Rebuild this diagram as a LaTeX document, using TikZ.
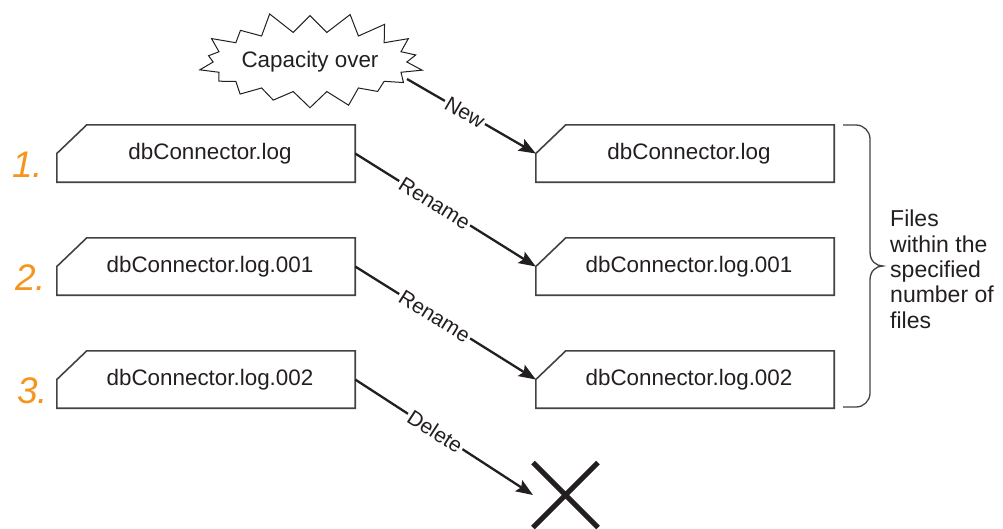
\documentclass[tikz,border=0pt]{standalone}
\usepackage{fontspec}
\setmainfont{Liberation Sans}
\usetikzlibrary{shapes.symbols,shapes.misc,arrows.meta}
\definecolor{numorange}{HTML}{F7941D}
\definecolor{ink}{HTML}{231F20}
\begin{document}
\begin{tikzpicture}[x=1pt,y=-1pt,
  box/.style={minimum width=298pt, minimum height=57pt, inner sep=0pt,
    font=\fontsize{22.4}{26}\selectfont, text=ink,
    execute at begin node={\hspace*{8pt}}},
  outline/.style={line width=1.6pt, draw=ink!85},
  conn/.style={line width=2.3pt, draw=ink, -{Stealth[length=17pt,width=13pt,inset=3pt]}},
  lbl/.style={sloped, fill=white, inner sep=2pt, font=\fontsize{21}{24}\selectfont, text=ink},
  num/.style={font=\fontsize{37}{40}\selectfont\itshape, text=numorange, anchor=base west, inner sep=0pt}]
\useasboundingbox (0,0) rectangle (1003,528);

% burst
\node[starburst, draw=ink, line width=1pt, starburst points=18, starburst point height=22pt,
  minimum width=224pt, minimum height=104pt, inner sep=0pt, random starburst=11,
  font=\fontsize{22.4}{26}\selectfont, text=ink] (burst) at (310,62) {Capacity over};
\coordinate (bstart) at (407,79);

% boxes
\node[box] (l1) at (206,153.5) {dbConnector.log};
\node[box] (l2) at (206,266.5) {dbConnector.log.001};
\node[box] (l3) at (206,379.5) {dbConnector.log.002};
\node[box] (r1) at (685,153.5) {dbConnector.log};
\node[box] (r2) at (685,266.5) {dbConnector.log.001};
\node[box] (r3) at (685,379.5) {dbConnector.log.002};
\foreach \n in {l1,l2,l3,r1,r2,r3}
  \draw[outline] ([xshift=30pt]\n.north west) -- (\n.north east) -- (\n.south east)
    -- (\n.south west) -- (\n.west) -- cycle;

% numbers
\node[num] (n1) at (12,177) {1.};
\node[num] (n2) at (15,290) {2.};
\node[num] (n3) at (17,403) {3.};

% cross
\node[draw=ink, cross out, line width=5pt, minimum size=60pt, inner sep=0pt] (del) at (565.5,495) {};

% connectors
\draw[conn] (bstart) -- node[lbl, pos=0.45] {New} (r1.west);
\draw[conn] (l1.east) -- node[lbl, pos=0.44] {Rename} (r2.west);
\draw[conn] (l2.east) -- node[lbl, pos=0.44] {Rename} (r3.west);
\draw[conn] (l3.east) -- node[lbl, pos=0.45] {Delete} (del.west);

% brace
\draw[line width=1.3pt, draw=ink!85] (843,125) -- (856,125) to[out=0,in=90] (870,139) -- (870,252)
  .. controls (870,261) and (876,266) .. (883,266)
  .. controls (876,266) and (870,271) .. (870,280) -- (870,393) to[out=-90,in=0] (856,407) -- (843,407);
\node[anchor=north west, align=left, inner sep=0pt, font=\fontsize{23}{25.3}\selectfont, text=ink]
  (files) at (890,210) {Files\\within the\\specified\\number of\\files};
\end{tikzpicture}
\end{document}
